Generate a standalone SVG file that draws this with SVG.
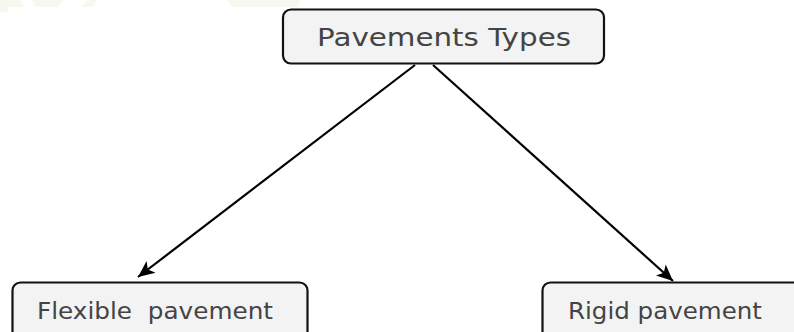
<svg xmlns="http://www.w3.org/2000/svg" width="794" height="332" viewBox="0 0 794 332">
<style>
.box{fill:#f3f3f3;stroke:#111;stroke-width:2.2}
.lbl{font-family:"DejaVu Sans",Verdana,sans-serif;fill:#444}
.edge{stroke:#000;stroke-width:2.2;fill:none}
.wm{fill:#f8f7f0}
</style>
<defs>
<marker id="ah" viewBox="0 0 10 10" refX="10" refY="5" markerWidth="7.5" markerHeight="7.5" markerUnits="strokeWidth" orient="auto">
<path d="M0,0.5 L10,5 L0,9.5 L2.5,5 Z" fill="#000"/>
</marker>
</defs>
<rect width="794" height="332" fill="#fff"/>
<g id="watermark">
<polygon class="wm" points="0,0 20,0 26,7 8,7 8,12 0,12"/>
<polygon class="wm" points="32,0 63,0 58,7 35,7"/>
<polygon class="wm" points="87,0 97,0 93,7 82,7"/>
<polygon class="wm" points="227,0 300,0 298,7 232,7"/>
</g>
<g id="connectors">
<line class="edge" x1="415" y1="65" x2="138" y2="277" marker-end="url(#ah)"/>
<line class="edge" x1="433" y1="65" x2="673" y2="281" marker-end="url(#ah)"/>
</g>
<g id="root">
<rect class="box" x="283" y="9.5" width="321" height="54" rx="8"/>
<text class="lbl" x="317" y="46" font-size="25" textLength="254" lengthAdjust="spacingAndGlyphs">Pavements Types</text>
</g>
<g id="flexible">
<rect class="box" x="12.5" y="282.5" width="295" height="70" rx="8"/>
<text class="lbl" x="37" y="319" font-size="22.5" textLength="236" lengthAdjust="spacingAndGlyphs" xml:space="preserve">Flexible  pavement</text>
</g>
<g id="rigid">
<rect class="box" x="542.5" y="282.5" width="270" height="70" rx="8"/>
<text class="lbl" x="568" y="318.5" font-size="22.5" textLength="194" lengthAdjust="spacingAndGlyphs">Rigid pavement</text>
</g>
</svg>
